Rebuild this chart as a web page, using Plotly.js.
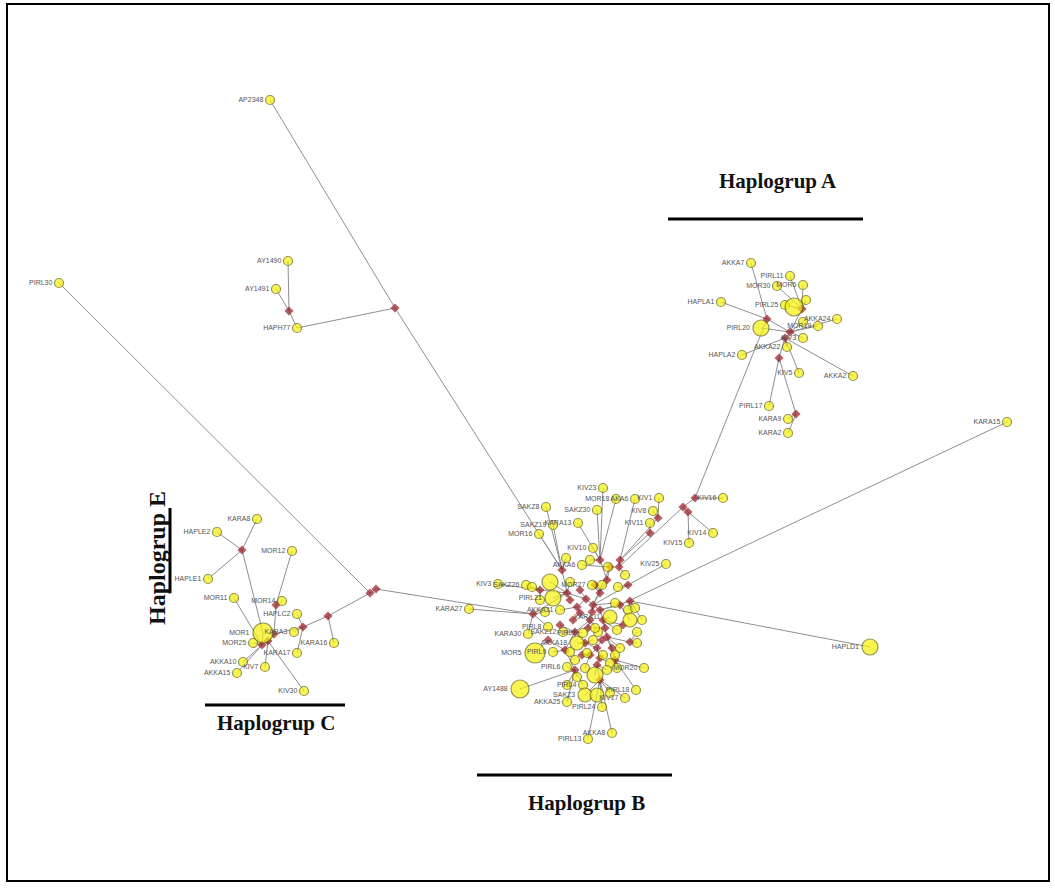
<!DOCTYPE html>
<html>
<head>
<meta charset="utf-8">
<script src="https://cdn.plot.ly/plotly-3.0.1.min.js"></script>
<style>html,body{margin:0;padding:0;background:#fff;}#chart{width:1055px;height:888px;}</style>
</head>
<body>
<div id="chart"></div>
<script>
// Each node: [id, label, x, y, size (haplotype frequency), parent id]
// ids starting with "mv" are median vectors (red diamonds)
const topLeftNodes = [
  ["AP2348","AP2348",270,100,9,"mvT2"],
  ["AY1490","AY1490",288,261,9,"mvT1"],
  ["AY1491","AY1491",276,289,9,"mvT1"],
  ["mvT1","",289,311,7,"HAPH77"],
  ["HAPH77","HAPH77",297,328,9,"mvT2"],
  ["mvT2","",395,308,7,"mvB2"],
  ["PIRL30","PIRL30",59,283,9,"mvC6"]
];
const groupCNodes = [
  ["KARA8","KARA8",257,519,9,"mvE1"],
  ["HAPLE2","HAPLE2",217,532,9,"mvE1"],
  ["HAPLE1","HAPLE1",208,579,9,"mvE1"],
  ["mvE1","",242,550,7,"MOR1"],
  ["MOR12","MOR12",292,551,9,"mvC1"],
  ["MOR14","MOR14",282,601,9,"mvC1"],
  ["mvC1","",276,605,7,"mvC3"],
  ["MOR11","MOR11",234,598,9,"mvC2"],
  ["MOR1","MOR1",263,633,20,"mvC2"],
  ["MOR25","MOR25",253,643,9,"mvC2"],
  ["mvC2","",262,645,7,"mvC2b"],
  ["mvC2b","",268,641,7,"mvC3"],
  ["mvC3","",274,634,7,"mvC4"],
  ["KARA3","KARA3",294,632,9,"mvC4"],
  ["HAPLC2","HAPLC2",297,614,9,"mvC4"],
  ["KARA17","KARA17",297,653,9,"mvC4"],
  ["mvC4","",303,627,7,"mvC5"],
  ["KARA16","KARA16",334,643,9,"mvC5"],
  ["mvC5","",328,616,7,"mvC6"],
  ["mvC6","",370,593,7,"mvC7"],
  ["mvC7","",376,589,7,"mvB0"],
  ["AKKA10","AKKA10",243,662,9,"mvC2"],
  ["AKKA15","AKKA15",237,673,9,"mvC2"],
  ["KIV7","KIV7",265,667,9,"mvC2b"],
  ["KIV30","KIV30",304,691,9,"mvC2b"]
];
const groupANodes = [
  ["AKKA7","AKKA7",751,263,9,"mvA1"],
  ["PIRL11","PIRL11",790,276,9,"mvA2"],
  ["MOR30","MOR30",777,286,9,"mvA2"],
  ["MOR6","MOR6",803,285,9,"mvA2"],
  ["HAPLA1","HAPLA1",721,302,9,"mvA1"],
  ["PIRL25","PIRL25",785,305,9,"mvA2"],
  ["A_big","",794,307,18,"mvA2"],
  ["A_y1","",806,300,9,"mvA2"],
  ["mvA2","",802,309,7,"mvA3"],
  ["mvA1","",767,319,7,"mvA3"],
  ["PIRL20","PIRL20",761,328,16,"mvA3"],
  ["AKKA24","AKKA24",837,319,9,"mvA3"],
  ["MOR19","MOR19",818,326,9,"mvA3"],
  ["A_y2","",803,322,9,"mvA3"],
  ["mvA3","",790,332,7,null],
  ["mvA4","",785,338,7,"mvA3"],
  ["KIV3A","KIV3",803,338,9,"mvA3"],
  ["AKKA22","AKKA22",787,347,9,"mvA4"],
  ["HAPLA2","HAPLA2",742,355,9,"mvA4"],
  ["mvA5","",779,358,7,"mvA4"],
  ["AKKA2","AKKA2",853,376,9,"mvA4"],
  ["KIV5","KIV5",799,373,9,"mvA4"],
  ["PIRL17","PIRL17",769,406,9,"mvA5"],
  ["mvA6","",796,414,7,"mvA5"],
  ["KARA9","KARA9",788,419,9,"mvA6"],
  ["KARA2","KARA2",788,433,9,"mvA6"]
];
const linkNodes = [
  ["mvK1","",695,498,7,"mvA1"],
  ["KIV16","KIV16",723,498,9,"mvK1"],
  ["mvK2","",683,507,7,"mvK1"],
  ["mvK3","",688,512,7,"mvK2"],
  ["KIV14","KIV14",713,533,9,"mvK3"],
  ["KIV15","KIV15",689,543,9,"mvK3"]
];
const groupBNodes = [
  ["KIV23","KIV23",603,488,9,"mvB3"],
  ["MOR18","MOR18",616,499,9,"mvB3"],
  ["AKA6","AKA6",635,499,9,"mvB4"],
  ["KIV1","KIV1",659,498,9,"mvK4"],
  ["KIV8","KIV8",653,511,9,"mvK4"],
  ["mvK4","",658,518,7,"mvB4"],
  ["KIV11","KIV11",650,523,9,"mvK5"],
  ["mvK5","",650,533,7,"mvB4"],
  ["SAKZ8","SAKZ8",546,507,9,"mvB2"],
  ["SAKZ30","SAKZ30",597,510,9,"mvB3"],
  ["SAKZ19","SAKZ19",553,525,9,"mvB2"],
  ["KARA13","KARA13",578,523,9,"mvB3"],
  ["MOR16","MOR16",539,534,9,"mvB2"],
  ["KIV10","KIV10",593,548,9,"mvB3"],
  ["KIV3","KIV3",498,584,9,"mvB1"],
  ["SAKZ26","SAKZ26",526,585,9,"mvB1"],
  ["KIV25","KIV25",666,564,9,"mvB5"],
  ["KARA15","KARA15",1007,422,9,"mvB6"],
  ["HAPLD1","HAPLD1",870,647,16,"mvB7"],
  ["KARA27","KARA27",469,609,9,"mvB0"],
  ["KARA30","KARA30",528,634,9,"mvB0"],
  ["MOR5","MOR5",535,653,20,"mvB8"],
  ["AY1488","AY1488",520,689,18,"mvB9"],
  ["MOR20","MOR20",644,668,9,"mvB10"],
  ["PIRL18","PIRL18",636,690,9,"mvB10"],
  ["KIV17","KIV17",625,698,9,"mvB11"],
  ["PIRL24","PIRL24",602,707,9,"mvB11"],
  ["AKKA25","AKKA25",567,702,9,"mvB9"],
  ["PIRL13","PIRL13",588,739,9,"mvB11"],
  ["AKKA8","AKKA8",612,733,9,"mvB11"],
  ["PIRL4","PIRL4",583,685,9,"mvB9"]
];
const groupBHubs = [
  ["mvB0","",533,614,7,"mvB12"],
  ["mvB1","",540,590,7,"mvB12"],
  ["mvB2","",562,570,7,"mvB12"],
  ["mvB3","",600,560,7,"mvB15"],
  ["mvB4","",620,560,7,"mvB17"],
  ["mvB5","",628,585,7,"mvB27"],
  ["mvB6","",620,605,7,"mvB22"],
  ["mvB7","",630,601,7,"mvB22"],
  ["mvB8","",548,640,7,"mvB25"],
  ["mvB9","",575,670,7,"mvB25"],
  ["mvB10","",615,660,7,"mvB29"],
  ["mvB11","",600,680,7,"mvB31"],
  ["mvB12","",567,593,7,"mvB13"],
  ["mvB13","",586,599,7,"mvB27"],
  ["mvB14","",600,593,7,"mvB27"],
  ["mvB15","",607,580,7,"mvB14"],
  ["mvB16","",610,567,7,"mvB15"],
  ["mvB17","",619,567,7,"mvK2"],
  ["mvB19","",580,613,7,"mvB26"],
  ["mvB20","",590,620,7,"mvB19"],
  ["mvB21","",575,632,7,"mvB20"],
  ["mvB22","",600,610,7,"mvB27"],
  ["mvB23","",585,643,7,"mvB21"],
  ["mvB24","",597,648,7,"mvB23"],
  ["mvB25","",565,650,7,"mvB21"],
  ["mvB26","",577,607,7,"mvB13"],
  ["mvB27","",593,605,7,"mvB16"],
  ["mvB28","",603,620,7,"mvB22"],
  ["mvB29","",607,637,7,"mvB28"],
  ["mvB30","",590,655,7,"mvB24"],
  ["mvB31","",597,665,7,"mvB32"],
  ["mvB32","",600,658,7,"mvB24"],
  ["mvB33","",630,642,7,"mvB29"],
  ["mvB40","",573,620,7,"mvB19"],
  ["mvB41","",588,628,7,"mvB20"],
  ["mvB42","",605,628,7,"mvB28"],
  ["mvB43","",582,655,7,"mvB30"],
  ["mvB44","",592,612,7,"mvB27"],
  ["mvB45","",560,625,7,"mvB21"],
  ["mvB46","",612,648,7,"mvB29"],
  ["mvB47","",595,585,7,"mvB14"],
  ["mvB48","",570,600,7,"mvB12"],
  ["mvB49","",602,640,7,"mvB24"],
  ["mvB50","",623,625,7,"mvB28"],
  ["mvB51","",580,590,7,"mvB13"]
];
const groupBCore = [
  ["By1","AKKA6",582,565,9,"mvB16"],
  ["By2","",608,567,9,"mvB16"],
  ["By3","",618,587,9,"mvB5"],
  ["By4","",550,582,16,"mvB12"],
  ["By5","PIRL21",553,598,16,"mvB12"],
  ["By6","",532,587,9,"mvB1"],
  ["By7","",570,582,9,"mvB12"],
  ["By8","MOR27",592,585,9,"mvB14"],
  ["By9","",602,585,9,"mvB14"],
  ["By10","",615,603,9,"mvB27"],
  ["By11","",628,610,9,"mvB7"],
  ["By12","",635,608,9,"mvB7"],
  ["By13","",630,620,14,"mvB6"],
  ["By14","KARA11",610,617,14,"mvB28"],
  ["By15","",617,630,9,"mvB28"],
  ["By16","",598,632,9,"mvB20"],
  ["By17","PIRL5",583,633,9,"mvB21"],
  ["By18","SAKZ12",563,632,9,"mvB21"],
  ["By19","PIRL8",548,627,9,"mvB0"],
  ["By20","",637,632,9,"mvB33"],
  ["By21","",637,643,9,"mvB33"],
  ["By22","",620,648,9,"mvB29"],
  ["By23","",593,640,9,"mvB23"],
  ["By24","AKKA18",577,643,14,"mvB23"],
  ["By25","",570,652,9,"mvB25"],
  ["By26","PIRL9",553,652,9,"mvB25"],
  ["By27","",587,653,9,"mvB30"],
  ["By28","",615,655,9,"mvB29"],
  ["By29","PIRL6",567,667,9,"mvB9"],
  ["By30","",575,660,9,"mvB25"],
  ["By31","",585,668,9,"mvB30"],
  ["By32","",603,655,9,"mvB32"],
  ["By33","",610,663,9,"mvB32"],
  ["By34","",617,668,9,"mvB10"],
  ["By35","",577,677,9,"mvB9"],
  ["By36","",607,670,9,"mvB31"],
  ["By37","",567,685,9,"mvB9"],
  ["By38","",595,675,16,"mvB31"],
  ["By39","SAKZ3",585,695,14,"mvB11"],
  ["By40","",597,695,14,"mvB11"],
  ["By41","",610,693,9,"mvB11"],
  ["By44","AKKA31",560,610,9,"mvB26"],
  ["By45","",545,612,9,"mvB0"],
  ["By46","",595,628,9,"mvB20"],
  ["By50","",566,558,9,"mvB2"],
  ["By51","",590,560,9,"mvB3"],
  ["By52","",625,575,9,"mvB17"],
  ["By53","",540,600,9,"mvB1"],
  ["By54","",642,620,9,"mvB7"]
];
const groupLabels = ["Haplogrup A","Haplogrup B","Haplogrup C","Haplogrup E"];

const allNodes = [].concat(topLeftNodes, groupCNodes, groupANodes, linkNodes, groupBNodes, groupBHubs, groupBCore);
const byId = {};
allNodes.forEach(n => { byId[n[0]] = n; });

const ex = [], ey = [];
allNodes.forEach(n => {
  const p = n[5] ? byId[n[5]] : null;
  if (p) { ex.push(n[2], p[2], null); ey.push(n[3], p[3], null); }
});
const yellow = allNodes.filter(n => !n[0].startsWith("mv"));
const red = allNodes.filter(n => n[0].startsWith("mv"));

const traces = [
  {type:"scatter", mode:"lines", x:ex, y:ey, line:{color:"#8f8f8f", width:1}, hoverinfo:"skip", showlegend:false},
  {type:"scatter", mode:"markers", x:red.map(n=>n[2]), y:red.map(n=>n[3]),
   marker:{symbol:"diamond", size:red.map(n=>n[4]), color:"#961a22", line:{width:0}}, hoverinfo:"skip", showlegend:false},
  {type:"scatter", mode:"markers+text", x:yellow.map(n=>n[2]), y:yellow.map(n=>n[3]),
   text:yellow.map(n=>n[1]), textposition:"middle left",
   textfont:{family:"Arial, Liberation Sans, sans-serif", size:7, color:"#555"},
   marker:{symbol:"circle", size:yellow.map(n=>n[4]), color:"#f6f20a", line:{color:"#68640c", width:1.2}},
   hovertext:yellow.map(n=>n[1]), hoverinfo:"text", showlegend:false}
];

const serif = {family:"Liberation Serif, Times New Roman, serif", size:21, color:"#111"};
const serifE = {family:"Liberation Serif, Times New Roman, serif", size:24, color:"#111"};
const layout = {
  width:1055, height:888,
  margin:{l:0,r:0,t:0,b:0},
  paper_bgcolor:"#ffffff", plot_bgcolor:"#ffffff",
  xaxis:{range:[0,1055], visible:false, fixedrange:true},
  yaxis:{range:[888,0], visible:false, fixedrange:true},
  annotations:[
    {x:778, y:181, xref:"x", yref:"y", text:"<b>"+groupLabels[0]+"</b>", showarrow:false, font:serif},
    {x:586, y:803, xref:"x", yref:"y", text:"<b>"+groupLabels[1]+"</b>", showarrow:false, font:serif},
    {x:276, y:723, xref:"x", yref:"y", text:"<b>"+groupLabels[2]+"</b>", showarrow:false, font:serif},
    {x:157, y:558, xref:"x", yref:"y", text:"<b>"+groupLabels[3]+"</b>", showarrow:false, font:serifE, textangle:-90}
  ],
  shapes:[
    {type:"rect", xref:"x", yref:"y", x0:7, x1:1049, y0:4, y1:881, line:{color:"#000", width:2}},
    {type:"line", xref:"x", yref:"y", x0:668, x1:863, y0:219, y1:219, line:{color:"#000", width:3}},
    {type:"line", xref:"x", yref:"y", x0:477, x1:672, y0:775, y1:775, line:{color:"#000", width:3}},
    {type:"line", xref:"x", yref:"y", x0:205, x1:345, y0:705, y1:705, line:{color:"#000", width:3}},
    {type:"line", xref:"x", yref:"y", x0:170, x1:170, y0:508, y1:593, line:{color:"#000", width:3}}
  ]
};
Plotly.newPlot("chart", traces, layout, {displayModeBar:false, staticPlot:true});
</script>
</body>
</html>
